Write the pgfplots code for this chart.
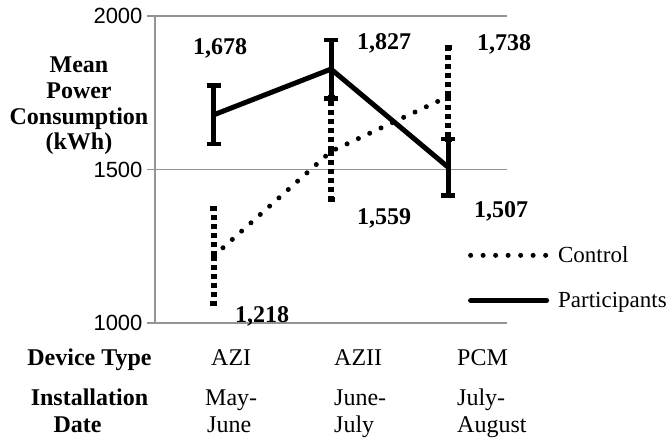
\documentclass[border=0pt]{standalone}
\usepackage{pgfplots}
\pgfplotsset{compat=1.18}
\usepackage{fontspec}
\setmainfont{Liberation Serif}
\newfontfamily\arial{Liberation Sans}
\newcommand\lbl{\fontsize{24}{28}\selectfont}
\begin{document}
\begin{tikzpicture}
\begin{scope}[shift={(-155pt,323pt)}, x=1pt, y=-1pt]
\useasboundingbox (0,0) rectangle (671,442);
\end{scope}
\begin{axis}[
  at={(0,0)}, anchor=south west,
  scale only axis, width=352pt, height=307pt,
  xmin=0.5, xmax=3.5, ymin=1000, ymax=2000,
  axis lines=left,
  axis line style={-, draw=black!42, line width=1.5pt},
  xtick=\empty, ytick={1000,1500,2000},
  ymajorgrids, grid style={black!42, line width=1.5pt},
  tick style={black!42, line width=1.5pt},
  tick align=outside, major tick length=8pt,
  yticklabel style={font=\arial\fontsize{22}{26}\selectfont, xshift=-1pt},
  /pgf/number format/assume math mode=true,
  /pgf/number format/1000 sep={},
  clip=false,
  legend image code/.code={\draw[#1] (0pt,0pt) -- (76pt,0pt);},
  legend style={draw=none, fill=none, at={(0.889,0.256)}, anchor=north west,
    inner sep=0pt, row sep=24pt, column sep=7pt, font=\fontsize{23}{27}\selectfont},
  legend cell align=left,
]
\addplot[black, line width=5pt, line cap=round, dash pattern=on 0pt off 12.5pt,
  error bars/.cd, y dir=both, y explicit,
  error bar style={line width=6pt, line cap=butt, dash pattern=on 5pt off 4pt},
  error mark options={rotate=90, mark size=3.5pt, line width=5pt, solid, black}]
  coordinates {
  (1,1218) += (0,154) -= (0,156)
  (2,1559) += (0,175) -= (0,157)
  (3,1738) += (0,160) -= (0,140)
  };
\addlegendentry{Control}
\addplot[black, line width=5pt, line join=round, line cap=round,
  error bars/.cd, y dir=both, y explicit,
  error bar style={line width=5pt, line cap=butt, solid},
  error mark options={rotate=90, mark size=7pt, line width=4.5pt, solid, black}]
  coordinates {
  (1,1678) +- (0,95)
  (2,1827) +- (0,95)
  (3,1507) +- (0,92)
  };
\addlegendentry{Participants}
\end{axis}
\begin{scope}[shift={(-155pt,323pt)}, x=1pt, y=-1pt]
\tikzset{every node/.style={inner sep=0pt, font=\lbl}}
% data labels
\node[anchor=base, font=\lbl\bfseries] at (220,55) {1,678};
\node[anchor=base, font=\lbl\bfseries] at (384,50) {1,827};
\node[anchor=base, font=\lbl\bfseries] at (504,51) {1,738};
\node[anchor=base, font=\lbl\bfseries] at (384,224) {1,559};
\node[anchor=base, font=\lbl\bfseries] at (501,217) {1,507};
\node[anchor=base, font=\lbl\bfseries] at (262,322) {1,218};
% y label
\node[anchor=base, font=\lbl\bfseries] at (79,73) {Mean};
\node[anchor=base, font=\lbl\bfseries] at (79,99) {Power};
\node[anchor=base, font=\lbl\bfseries] at (79,125) {Consumption};
\node[anchor=base, font=\lbl\bfseries] at (79,150) {(kWh)};
% table below
\node[anchor=base, font=\lbl\bfseries] at (89.5,365) {Device Type};
\node[anchor=base, font=\lbl\bfseries] at (89.5,405) {Installation};
\node[anchor=base, font=\lbl\bfseries] at (77.5,432) {Date};
\node[anchor=base west] at (211,365) {AZI};
\node[anchor=base west] at (205,405) {May-};
\node[anchor=base west] at (207,432) {June};
\node[anchor=base west] at (334,365) {AZII};
\node[anchor=base west] at (334,405) {June-};
\node[anchor=base west] at (334,432) {July};
\node[anchor=base west] at (457,365) {PCM};
\node[anchor=base west] at (457,405) {July-};
\node[anchor=base west] at (457,432) {August};
\end{scope}
\end{tikzpicture}
\end{document}
